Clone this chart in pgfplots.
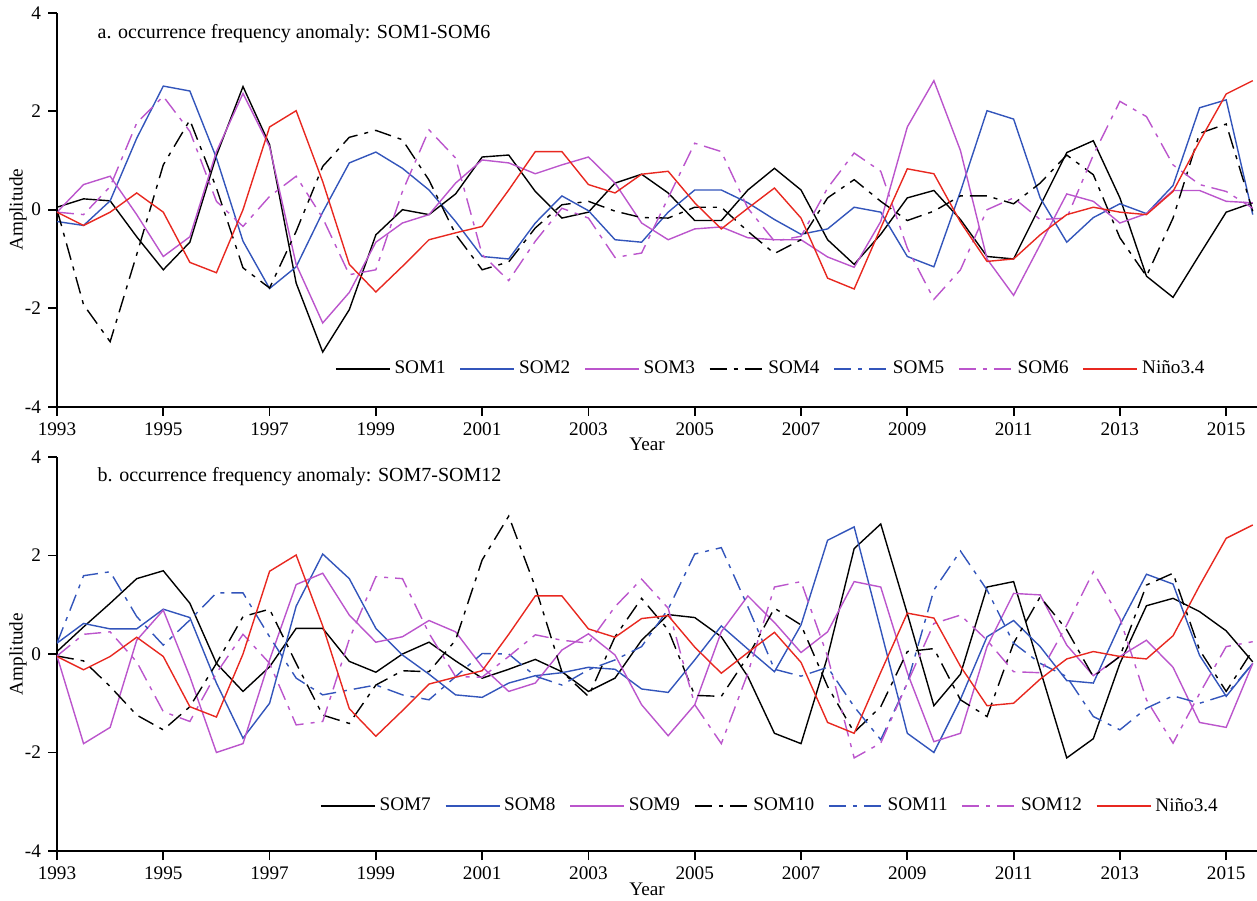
\documentclass[border=0pt]{standalone}
\usepackage{fontspec}
\setmainfont{Liberation Serif}
\usepackage{pgfplots}
\usepackage{pgfplotstable}
\pgfplotsset{compat=1.18}
\definecolor{blueL}{RGB}{51,85,187}
\definecolor{purpL}{RGB}{187,85,204}
\definecolor{redL}{RGB}{232,40,32}
\tikzset{dd/.style={dash pattern=on 8.5pt off 3.5pt on 2pt off 3.5pt}}

\pgfplotstableread{
t S1 S2 S3 S4 S6 N
1993.0 0.05 -0.24 -0.05 0.00 -0.05 -0.05
1993.5 0.22 -0.32 0.51 -1.93 -0.10 -0.32
1994.0 0.18 0.18 0.68 -2.68 0.47 -0.05
1994.5 -0.55 1.45 -0.10 -0.91 1.76 0.34
1995.0 -1.22 2.51 -0.95 0.91 2.30 -0.05
1995.5 -0.66 2.41 -0.55 1.82 1.59 -1.07
1996.0 1.10 1.05 1.18 0.44 0.17 -1.28
1996.5 2.50 -0.64 2.36 -1.18 -0.34 0.00
1997.0 1.32 -1.60 1.28 -1.59 0.27 1.68
1997.5 -1.49 -1.16 -1.11 -0.44 0.68 2.01
1998.0 -2.89 -0.05 -2.30 0.88 -0.17 0.57
1998.5 -2.03 0.95 -1.68 1.47 -1.32 -1.11
1999.0 -0.51 1.17 -0.66 1.61 -1.22 -1.67
1999.5 0.00 0.84 -0.27 1.42 0.37 -1.15
2000.0 -0.10 0.40 -0.10 0.60 1.62 -0.61
2000.5 0.32 -0.24 0.54 -0.50 1.05 -0.47
2001.0 1.07 -0.95 1.01 -1.22 -0.91 -0.34
2001.5 1.11 -1.00 0.95 -1.06 -1.44 0.40
2002.0 0.37 -0.27 0.73 -0.37 -0.64 1.18
2002.5 -0.17 0.28 0.91 0.10 0.03 1.18
2003.0 -0.05 -0.02 1.07 0.17 -0.17 0.51
2003.5 0.54 -0.61 0.54 -0.03 -0.97 0.34
2004.0 0.72 -0.66 -0.27 -0.16 -0.88 0.72
2004.5 0.34 -0.05 -0.61 -0.17 0.24 0.78
2005.0 -0.22 0.40 -0.39 0.05 1.35 0.14
2005.5 -0.22 0.40 -0.35 0.05 1.18 -0.39
2006.0 0.40 0.14 -0.57 -0.44 0.03 0.03
2006.5 0.84 -0.20 -0.61 -0.89 -0.64 0.44
2007.0 0.40 -0.50 -0.61 -0.61 -0.54 -0.17
2007.5 -0.61 -0.39 -0.96 0.24 0.44 -1.39
2008.0 -1.11 0.05 -1.17 0.61 1.15 -1.61
2008.5 -0.50 -0.05 -0.24 0.17 0.78 -0.37
2009.0 0.24 -0.95 1.68 -0.22 -0.78 0.83
2009.5 0.39 -1.16 2.62 -0.03 -1.82 0.73
2010.0 -0.20 0.37 1.20 0.28 -1.22 -0.25
2010.5 -0.95 2.01 -1.00 0.28 0.00 -1.05
2011.0 -1.00 1.84 -1.74 0.12 0.24 -1.00
2011.5 0.08 0.24 -0.71 0.54 -0.20 -0.51
2012.0 1.16 -0.66 0.32 1.11 -0.17 -0.10
2012.5 1.40 -0.16 0.17 0.71 1.11 0.05
2013.0 0.24 0.12 -0.27 -0.57 2.20 -0.05
2013.5 -1.35 -0.08 -0.08 -1.35 1.89 -0.10
2014.0 -1.78 0.49 0.39 -0.17 0.91 0.37
2014.5 -0.91 2.07 0.39 1.55 0.51 1.39
2015.0 -0.05 2.23 0.17 1.74 0.37 2.35
2015.5 0.14 -0.10 0.14 -0.03 0.03 2.62
}\topdata

\pgfplotstableread{
t S7 S8 S9 S10 S11 S12 N
1993.0 0.05 0.22 -0.04 -0.04 0.22 -0.04 -0.05
1993.5 0.55 0.62 -1.82 -0.14 1.59 0.40 -0.32
1994.0 1.03 0.51 -1.49 -0.66 1.67 0.45 -0.05
1994.5 1.53 0.51 0.28 -1.24 0.76 -0.16 0.34
1995.0 1.69 0.91 0.89 -1.54 0.18 -1.17 -0.05
1995.5 1.03 0.74 -0.46 -1.07 0.69 -1.37 -1.07
1996.0 -0.19 -0.59 -2.00 -0.19 1.24 -0.39 -1.28
1996.5 -0.76 -1.71 -1.82 0.76 1.24 0.40 0.00
1997.0 -0.26 -1.00 -0.12 0.91 0.35 -0.19 1.68
1997.5 0.52 0.97 1.41 -0.19 -0.49 -1.44 2.01
1998.0 0.52 2.03 1.64 -1.24 -0.83 -1.37 0.57
1998.5 -0.15 1.53 0.79 -1.41 -0.73 0.30 -1.11
1999.0 -0.37 0.52 0.24 -0.63 -0.63 1.57 -1.67
1999.5 0.00 -0.02 0.35 -0.34 -0.83 1.53 -1.15
2000.0 0.24 -0.41 0.68 -0.36 -0.93 0.42 -0.61
2000.5 -0.14 -0.83 0.45 0.28 -0.46 -0.46 -0.47
2001.0 -0.49 -0.88 -0.26 1.91 0.01 -0.47 -0.34
2001.5 -0.31 -0.59 -0.76 2.80 0.00 -0.05 0.40
2002.0 -0.11 -0.44 -0.59 1.36 -0.45 0.39 1.18
2002.5 -0.36 -0.38 0.08 -0.36 -0.63 0.28 1.18
2003.0 -0.76 -0.27 0.41 -0.86 -0.32 0.22 0.51
2003.5 -0.49 -0.31 -0.02 0.35 -0.12 0.96 0.34
2004.0 0.28 -0.71 -1.03 1.13 0.15 1.52 0.72
2004.5 0.80 -0.78 -1.66 0.49 0.91 0.93 0.78
2005.0 0.74 -0.12 -1.03 -0.84 2.03 -1.03 0.14
2005.5 0.35 0.57 0.45 -0.86 2.16 -1.82 -0.39
2006.0 -0.46 0.10 1.18 -0.05 0.96 -0.39 0.03
2006.5 -1.61 -0.36 0.64 0.93 -0.31 1.36 0.44
2007.0 -1.82 0.59 0.03 0.59 -0.45 1.47 -0.17
2007.5 -0.05 2.31 0.45 -0.66 -0.27 -0.05 -1.39
2008.0 2.14 2.58 1.47 -1.59 -1.07 -2.11 -1.61
2008.5 2.64 0.49 1.36 -1.07 -1.74 -1.81 -0.37
2009.0 0.82 -1.61 -0.38 0.05 -0.59 -0.59 0.83
2009.5 -1.05 -2.00 -1.78 0.11 1.30 0.62 0.73
2010.0 -0.41 -0.92 -1.61 -0.93 2.09 0.79 -0.25
2010.5 1.36 0.35 0.15 -1.27 1.30 0.28 -1.05
2011.0 1.47 0.68 1.23 0.22 0.22 -0.36 -1.00
2011.5 -0.32 0.15 1.20 1.16 -0.19 -0.38 -0.51
2012.0 -2.11 -0.54 0.18 0.49 -0.46 0.59 -0.10
2012.5 -1.72 -0.59 -0.44 -0.46 -1.27 1.67 0.05
2013.0 -0.19 0.59 -0.05 -0.05 -1.54 0.72 -0.05
2013.5 0.98 1.62 0.28 1.40 -1.10 -0.93 -0.10
2014.0 1.13 1.42 -0.27 1.64 -0.85 -1.81 0.37
2014.5 0.86 -0.03 -1.39 0.08 -1.00 -0.80 1.39
2015.0 0.47 -0.86 -1.49 -0.76 -0.83 0.15 2.35
2015.5 -0.16 -0.19 -0.19 0.08 -0.19 0.25 2.62
}\botdata

\pgfplotsset{
  myaxis/.style={
    scale only axis, width=600pt, height=197pt,
    xmin=1993, xmax=2015.58, ymin=-4, ymax=4,
    axis x line=bottom, axis y line=left,
    axis line style={-, line width=0.9pt},
    xtick={1993,1995,...,2015}, ytick={-4,-2,0,2,4},
    tick align=outside, major tick length=4.5pt,
    tick style={line width=0.9pt, black},
    /pgf/number format/assume math mode=true,
    /pgf/number format/set thousands separator={},
    xticklabel style={/pgf/number format/fixed, /pgf/number format/precision=0},
    tick label style={font=\fontsize{9.6}{11}\selectfont},
    label style={font=\fontsize{9.6}{11}\selectfont},
    xlabel={Year}, ylabel={Amplitude},
    xlabel style={at={(axis description cs:0.4917,0)}, anchor=center, yshift=-19pt},
    ylabel style={at={(axis description cs:-0.0325,0.5)}, anchor=center},
    legend columns=7,
    legend style={draw=none, fill=none, font=\fontsize{9.6}{11}\selectfont,
      /tikz/every even column/.append style={column sep=5pt}},
    legend image code/.code={\draw[##1] (0pt,0pt) -- (27pt,0pt);},
    every axis plot/.append style={line width=0.7pt},
  },
}

\begin{document}
\begin{tikzpicture}
\begin{axis}[myaxis, at={(28.5pt,246.65pt)}, anchor=south west,
  legend style={at={(0.965,0.0957)}, anchor=east}]
\addplot[black] table[x=t,y=S1] {\topdata};
\addlegendentry{SOM1}
\addplot[blueL] table[x=t,y=S2] {\topdata};
\addlegendentry{SOM2}
\addplot[purpL] table[x=t,y=S3] {\topdata};
\addlegendentry{SOM3}
\addplot[black, dd] table[x=t,y=S4] {\topdata};
\addlegendentry{SOM4}
\addlegendimage{blueL, dd, line width=0.7pt}
\addlegendentry{SOM5}
\addplot[purpL, dd] table[x=t,y=S6] {\topdata};
\addlegendentry{SOM6}
\addplot[redL] table[x=t,y=N] {\topdata};
\addlegendentry{Niño3.4}
\node[anchor=west, font=\fontsize{10}{12}\selectfont] at (rel axis cs:0.028,0.948) {a. occurrence frequency anomaly: SOM1-SOM6};
\end{axis}

\begin{axis}[myaxis, at={(28.5pt,24.5pt)}, anchor=south west,
  legend style={at={(0.976,0.114)}, anchor=east}]
\addplot[black] table[x=t,y=S7] {\botdata};
\addlegendentry{SOM7}
\addplot[blueL] table[x=t,y=S8] {\botdata};
\addlegendentry{SOM8}
\addplot[purpL] table[x=t,y=S9] {\botdata};
\addlegendentry{SOM9}
\addplot[black, dd] table[x=t,y=S10] {\botdata};
\addlegendentry{SOM10}
\addplot[blueL, dd] table[x=t,y=S11] {\botdata};
\addlegendentry{SOM11}
\addplot[purpL, dd] table[x=t,y=S12] {\botdata};
\addlegendentry{SOM12}
\addplot[redL] table[x=t,y=N] {\botdata};
\addlegendentry{Niño3.4}
\node[anchor=west, font=\fontsize{10}{12}\selectfont] at (rel axis cs:0.028,0.949) {b. occurrence frequency anomaly: SOM7-SOM12};
\end{axis}
\pgfresetboundingbox
\useasboundingbox (0pt,0pt) rectangle (628.5pt,450pt);
\end{tikzpicture}
\end{document}
